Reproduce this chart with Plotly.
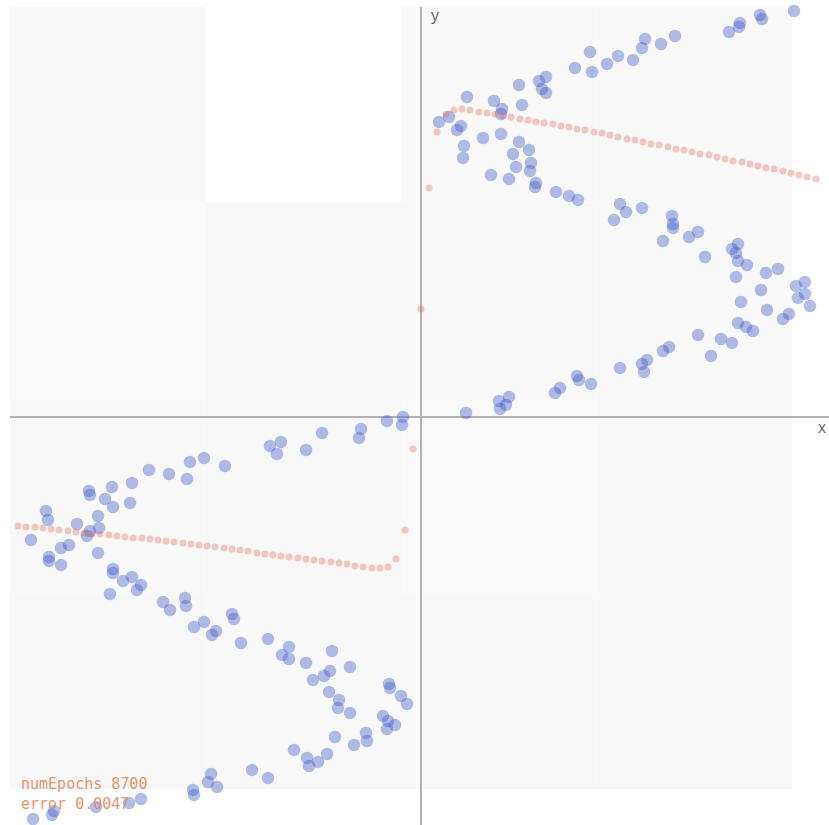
import plotly.graph_objects as go

# Training samples: upper branch (x > 0) and lower branch (x < 0)
upper_x = [3.73, 3.39, 3.41, 3.19, 3.18, 3.08, 2.54, 2.40, 2.24, 2.21,
           2.12, 1.97, 1.86, 1.69, 1.71, 1.54, 1.25, 1.18, 1.21, 1.25,
           0.98, 1.01, 0.73, 0.81, 0.80, 0.46, 0.28, 0.18, 0.40, 0.36,
           0.80, 0.62, 0.43, 0.42, 0.98, 1.08, 0.92, 1.10, 0.95, 1.09,
           0.70, 0.88, 1.15, 1.14, 1.35, 1.48, 1.57, 1.99, 2.05, 1.93,
           2.21, 2.51, 2.52, 2.52, 2.42, 2.68, 2.77, 2.84, 3.17, 3.11,
           3.15, 3.17, 3.26, 3.15, 3.45, 3.57, 3.40, 3.75, 3.84, 3.84,
           3.77, 3.89, 3.20, 3.46, 3.68, 3.62, 3.17, 3.25, 3.32, 3.11,
           3.00, 2.77, 2.90, 2.48, 2.42, 2.26, 2.21, 2.23, 1.99, 1.70,
           1.56, 1.58, 1.39, 1.34, 0.88, 0.78, 0.85, 0.79, 0.45]
upper_y = [4.06, 4.02, 3.98, 3.94, 3.90, 3.85, 3.81, 3.73, 3.78, 3.69,
           3.57, 3.61, 3.53, 3.65, 3.45, 3.49, 3.40, 3.36, 3.28, 3.24,
           3.32, 3.12, 3.16, 3.08, 3.03, 3.20, 3.00, 2.95, 2.91, 2.87,
           2.83, 2.79, 2.71, 2.59, 2.75, 2.67, 2.63, 2.54, 2.50, 2.46,
           2.42, 2.38, 2.34, 2.30, 2.25, 2.21, 2.17, 2.13, 2.05, 1.97,
           2.09, 2.01, 1.93, 1.89, 1.76, 1.80, 1.85, 1.60, 1.73, 1.68,
           1.64, 1.56, 1.52, 1.40, 1.44, 1.48, 1.27, 1.31, 1.35, 1.23,
           1.19, 1.11, 1.15, 1.07, 1.03, 0.98, 0.94, 0.90, 0.86, 0.74,
           0.78, 0.82, 0.61, 0.70, 0.66, 0.57, 0.53, 0.45, 0.49, 0.33,
           0.41, 0.37, 0.29, 0.24, 0.20, 0.16, 0.12, 0.08, 0.04]

lower_x = [-0.18, -0.19, -0.34, -0.60, -0.62, -0.99, -1.15, -1.40, -1.51, -1.44,
           -1.96, -2.17, -2.31, -2.34, -2.52, -2.72, -2.89, -2.91, -3.09, -3.08,
           -3.16, -3.32, -3.31, -3.23, -3.22, -3.31, -3.34, -3.44, -3.75, -3.73,
           -3.90, -3.72, -3.72, -3.60, -3.60, -3.52, -3.23, -3.08, -3.08, -3.11,
           -2.98, -2.89, -2.80, -2.84, -2.58, -2.51, -2.36, -2.35, -2.27, -2.17,
           -2.09, -2.05, -1.89, -1.87, -1.80, -1.53, -1.32, -1.39, -1.32, -1.15,
           -1.08, -0.97, -0.91, -0.89, -0.71, -0.92, -0.82, -0.83, -0.71, -0.32,
           -0.31, -0.20, -0.14, -0.38, -0.33, -0.26, -0.34, -0.55, -0.54, -0.67,
           -0.86, -0.94, -1.03, -1.14, -1.12, -1.27, -1.53, -1.69, -2.10, -2.13,
           -2.04, -2.28, -2.27, -2.80, -2.92, -3.25, -3.67, -3.69, -3.88]
lower_y = [0.00, -0.08, -0.04, -0.12, -0.21, -0.16, -0.33, -0.25, -0.29, -0.37,
           -0.49, -0.41, -0.45, -0.62, -0.57, -0.53, -0.66, -0.86, -0.70, -0.90,
           -0.82, -0.74, -0.78, -0.99, -1.11, -1.14, -1.19, -1.07, -0.94, -1.03,
           -1.23, -1.40, -1.44, -1.48, -1.31, -1.28, -1.36, -1.52, -1.56, -1.77,
           -1.64, -1.60, -1.68, -1.73, -1.85, -1.93, -1.81, -1.89, -2.10, -2.05,
           -2.18, -2.14, -1.97, -2.02, -2.26, -2.22, -2.30, -2.38, -2.42, -2.46,
           -2.63, -2.59, -2.54, -2.34, -2.50, -2.75, -2.83, -2.91, -2.96, -2.67,
           -2.71, -2.79, -2.87, -2.99, -3.04, -3.08, -3.12, -3.16, -3.24, -3.28,
           -3.20, -3.37, -3.45, -3.41, -3.49, -3.33, -3.61, -3.53, -3.57, -3.65,
           -3.70, -3.73, -3.78, -3.82, -3.86, -3.90, -3.94, -3.98, -4.02]

# Network prediction sampled along x
pred_x = [-4.03, -3.95, -3.86, -3.78, -3.70, -3.62, -3.53, -3.45, -3.37, -3.29,
          -3.21, -3.12, -3.04, -2.96, -2.88, -2.79, -2.71, -2.63, -2.55, -2.47,
          -2.38, -2.30, -2.22, -2.14, -2.06, -1.97, -1.89, -1.81, -1.73, -1.64,
          -1.56, -1.48, -1.40, -1.32, -1.23, -1.15, -1.07, -0.99, -0.90, -0.82,
          -0.74, -0.66, -0.58, -0.49, -0.41, -0.33, -0.25, -0.16, -0.08,
          0.00, 0.08, 0.16, 0.25, 0.33, 0.41, 0.49, 0.58, 0.66, 0.74,
          0.82, 0.90, 0.99, 1.07, 1.15, 1.23, 1.32, 1.40, 1.48, 1.56,
          1.64, 1.73, 1.81, 1.89, 1.97, 2.06, 2.14, 2.22, 2.30, 2.38,
          2.47, 2.55, 2.63, 2.71, 2.79, 2.88, 2.96, 3.04, 3.12, 3.21,
          3.29, 3.37, 3.45, 3.53, 3.62, 3.70, 3.78, 3.86, 3.95]
pred_y = [-1.09, -1.10, -1.10, -1.11, -1.12, -1.13, -1.14, -1.15, -1.16, -1.17,
          -1.17, -1.18, -1.19, -1.20, -1.21, -1.21, -1.22, -1.23, -1.24, -1.25,
          -1.26, -1.27, -1.28, -1.29, -1.30, -1.31, -1.32, -1.33, -1.34, -1.36,
          -1.37, -1.38, -1.39, -1.40, -1.41, -1.42, -1.43, -1.44, -1.45, -1.46,
          -1.47, -1.49, -1.50, -1.51, -1.51, -1.50, -1.42, -1.13, -0.32,
          1.08, 2.29, 2.85, 3.03, 3.07, 3.08, 3.07, 3.05, 3.04, 3.03,
          3.01, 3.00, 2.98, 2.97, 2.95, 2.94, 2.93, 2.91, 2.90, 2.88,
          2.87, 2.85, 2.84, 2.82, 2.80, 2.78, 2.77, 2.75, 2.73, 2.72,
          2.70, 2.68, 2.67, 2.65, 2.63, 2.62, 2.60, 2.58, 2.56, 2.55,
          2.53, 2.51, 2.49, 2.48, 2.46, 2.44, 2.42, 2.40, 2.38]

num_epochs = 8700
error = 0.0047

X_RANGE = [-4.21, 4.08]
Y_RANGE = [-4.08, 4.17]

fig = go.Figure()

fig.add_trace(go.Scatter(
    x=upper_x + lower_x, y=upper_y + lower_y, mode="markers",
    marker=dict(size=12.5, color="rgba(65,90,200,0.40)", line=dict(width=0)),
    hoverinfo="skip", showlegend=False))

fig.add_trace(go.Scatter(
    x=pred_x, y=pred_y, mode="markers",
    marker=dict(size=7, color="rgba(228,115,95,0.38)", line=dict(width=0)),
    hoverinfo="skip", showlegend=False))

# Tiled canvas background (4 x 4 tiles)
tile = 1.955
x_left, y_top = -4.11, 4.10
shades = [["#f8f8f8", "#ffffff", "#f9f9f9", "#f9f9f9"],
          ["#fafafa", "#f8f8f8", "#f9f9f9", "#f9f9f9"],
          ["#f9f9f9", "#f8f8f8", "#fafafa", "#f9f9f9"],
          ["#f8f8f8", "#f9f9f9", "#f9f9f9", "#f9f9f9"]]
shapes = []
for r in range(4):
    for c in range(4):
        shapes.append(dict(
            type="rect", layer="below", xref="x", yref="y",
            x0=x_left + c * tile, x1=x_left + (c + 1) * tile,
            y0=y_top - (r + 1) * tile, y1=y_top - r * tile,
            fillcolor=shades[r][c], line=dict(width=0)))

# Coordinate axes through the origin
shapes.append(dict(type="line", xref="x", yref="y", x0=0, x1=0,
                   y0=4.10, y1=Y_RANGE[0], layer="below",
                   line=dict(color="#b2b2b2", width=2)))
shapes.append(dict(type="line", xref="x", yref="y", x0=-4.11, x1=X_RANGE[1],
                   y0=0, y1=0, layer="below",
                   line=dict(color="#b2b2b2", width=2)))

annotations = [
    dict(x=4.01, y=-0.10, xref="x", yref="y", text="x", showarrow=False,
         font=dict(family="Liberation Sans, Arial, sans-serif", size=16, color="#666666")),
    dict(x=0.14, y=4.02, xref="x", yref="y", text="y", showarrow=False,
         font=dict(family="Liberation Sans, Arial, sans-serif", size=16, color="#666666")),
    dict(x=19 / 829, y=1 - 773 / 825, xref="paper", yref="paper",
         xanchor="left", yanchor="top", align="left", showarrow=False,
         text=f"numEpochs {num_epochs}<br>error {error}",
         font=dict(family="DejaVu Sans Mono, monospace", size=15,
                   color="rgba(230,135,90,0.92)")),
]

fig.update_layout(
    width=829, height=825, autosize=False,
    margin=dict(l=0, r=0, t=0, b=0, pad=0),
    paper_bgcolor="#ffffff", plot_bgcolor="rgba(0,0,0,0)",
    xaxis=dict(range=X_RANGE, visible=False, fixedrange=True),
    yaxis=dict(range=Y_RANGE, visible=False, fixedrange=True),
    shapes=shapes, annotations=annotations,
)

fig.write_html("out.html", config={"displayModeBar": False})
